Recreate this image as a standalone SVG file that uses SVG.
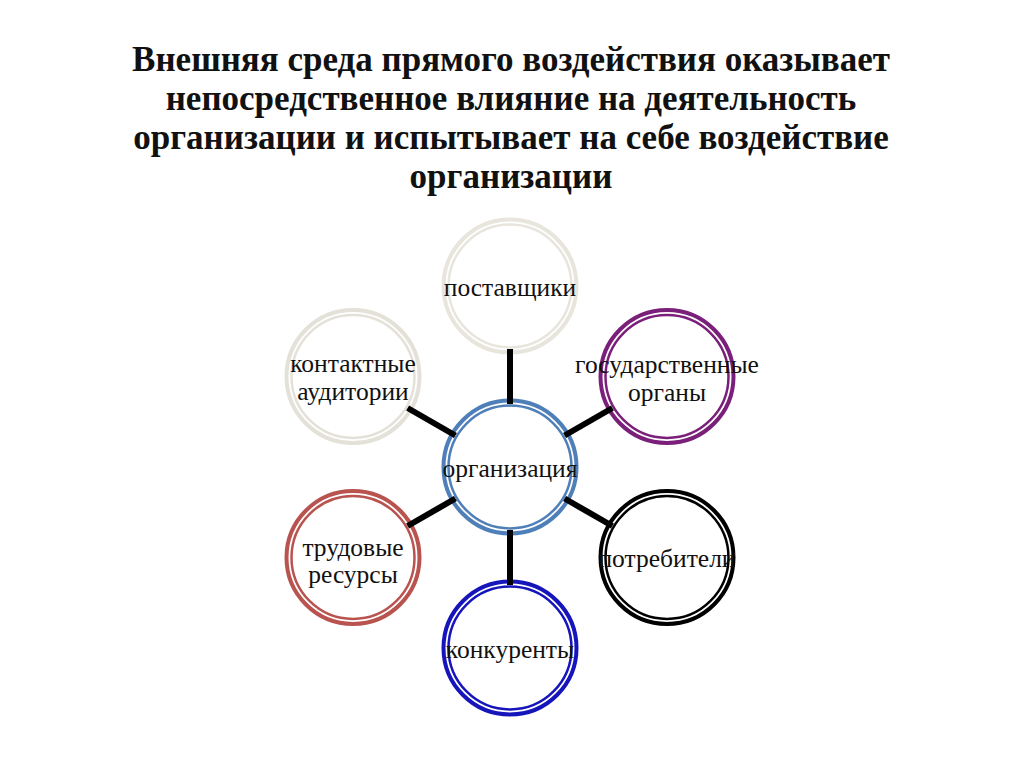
<svg xmlns="http://www.w3.org/2000/svg" width="1024" height="767" viewBox="0 0 1024 767">
<style>
.title{font-family:"Liberation Serif","Times New Roman",serif;font-weight:bold;font-size:35px;fill:#111;text-anchor:middle}
.lbl{font-family:"Liberation Serif","Times New Roman",serif;font-size:25.5px;fill:#111;text-anchor:middle}
.ro{fill:#fff;stroke-width:4}
.ri{fill:none;stroke-width:2.5}
.conn{stroke:#000;stroke-width:6;stroke-linecap:butt}
</style>
<rect width="1024" height="767" fill="#fff"/>
<g id="title">
<text class="title" x="511" y="71">Внешняя среда прямого воздействия оказывает</text>
<text class="title" x="511" y="110">непосредственное влияние на деятельность</text>
<text class="title" x="511" y="149">организации и испытывает на себе воздействие</text>
<text class="title" x="511" y="188">организации</text>
</g>
<g id="n-postavshiki">
<circle class="ro" cx="510" cy="286" r="66.5" stroke="#e8e5dd"/>
<circle class="ri" cx="510" cy="286" r="61.5" stroke="#e8e5dd"/>
<text class="lbl" x="510" y="296">поставщики</text>
</g>
<g id="n-gos">
<circle class="ro" cx="667" cy="376.5" r="66.5" stroke="#7a1f7a"/>
<circle class="ri" cx="667" cy="376.5" r="61.5" stroke="#7a1f7a"/>
<text class="lbl" x="667" y="373">государственные</text>
<text class="lbl" x="667" y="401">органы</text>
</g>
<g id="n-potrebiteli">
<circle class="ro" cx="667" cy="557.5" r="66.5" stroke="#000"/>
<circle class="ri" cx="667" cy="557.5" r="61.5" stroke="#000"/>
<text class="lbl" x="667" y="567">потребители</text>
</g>
<g id="n-konkurenty">
<circle class="ro" cx="510" cy="648" r="66.5" stroke="#1515bb"/>
<circle class="ri" cx="510" cy="648" r="61.5" stroke="#1515bb"/>
<text class="lbl" x="510" y="658">конкуренты</text>
</g>
<g id="n-trudovye">
<circle class="ro" cx="353" cy="557.5" r="66.5" stroke="#b9534f"/>
<circle class="ri" cx="353" cy="557.5" r="61.5" stroke="#b9534f"/>
<text class="lbl" x="353" y="556">трудовые</text>
<text class="lbl" x="353" y="583">ресурсы</text>
</g>
<g id="n-kontaktnye">
<circle class="ro" cx="353" cy="376.5" r="66.5" stroke="#e4e1d8"/>
<circle class="ri" cx="353" cy="376.5" r="61.5" stroke="#e4e1d8"/>
<text class="lbl" x="353" y="372">контактные</text>
<text class="lbl" x="353" y="400">аудитории</text>
</g>
<g id="n-organizaciya">
<circle class="ro" cx="510" cy="467" r="66.5" stroke="#4f7fb8"/>
<circle class="ri" cx="510" cy="467" r="61.5" stroke="#4f7fb8"/>
<text class="lbl" x="510" y="477">организация</text>
</g>
<g id="connectors">
<line class="conn" x1="510" y1="404" x2="510" y2="349"/>
<line class="conn" x1="564.6" y1="435.5" x2="612.4" y2="408"/>
<line class="conn" x1="564.6" y1="498.5" x2="612.4" y2="526"/>
<line class="conn" x1="510" y1="530" x2="510" y2="585"/>
<line class="conn" x1="455.4" y1="498.5" x2="407.6" y2="526"/>
<line class="conn" x1="455.4" y1="435.5" x2="407.6" y2="408"/>
</g>
</svg>
